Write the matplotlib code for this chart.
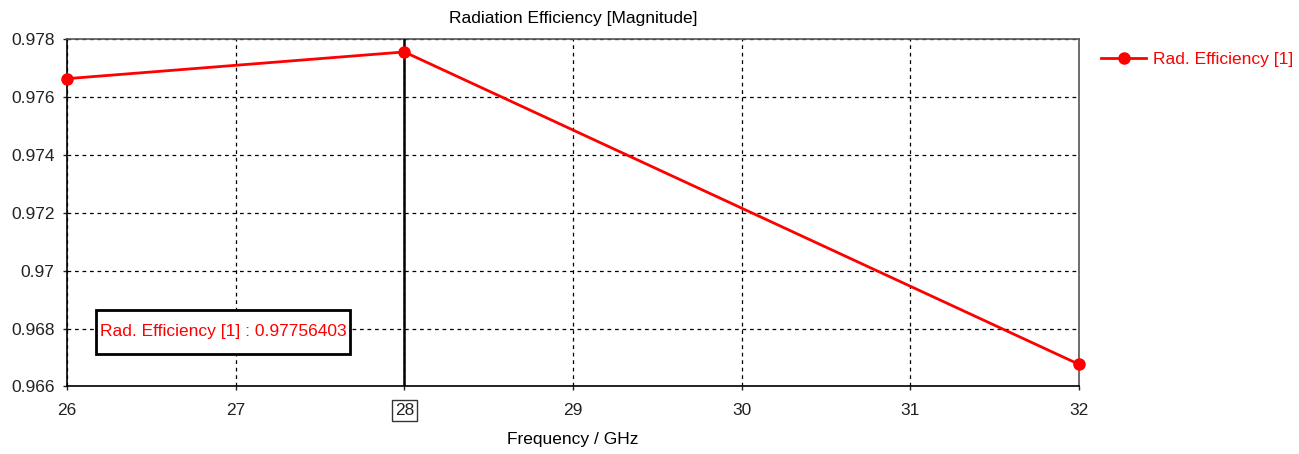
import matplotlib.pyplot as plt
from matplotlib.patches import Rectangle

plt.rcParams['font.family'] = ['Liberation Sans', 'DejaVu Sans']

freq = [26, 28, 32]
rad_eff = [0.97664, 0.97756403, 0.966766]
marker_freq = 28
marker_value = 0.97756403
x_ticks = [26, 27, 28, 29, 30, 31, 32]
y_ticks = [0.966, 0.968, 0.97, 0.972, 0.974, 0.976, 0.978]
y_labels = ['0.966', '0.968', '0.97', '0.972', '0.974', '0.976', '0.978']

fs = 12.5

fig = plt.figure(figsize=(12.99, 4.54), dpi=100)
ax = fig.add_axes([0.0516, 0.1487, 0.7790, 0.7647])

ax.plot(freq, rad_eff, color='red', lw=2, marker='o', ms=8,
        label='Rad. Efficiency [1]', clip_on=False, zorder=5)
ax.axvline(marker_freq, color='black', lw=1.8, zorder=4)

ax.set_xlim(26, 32)
ax.set_ylim(0.966, 0.978)
ax.set_xticks(x_ticks)
ax.set_yticks(y_ticks)
ax.set_yticklabels(y_labels)
ax.grid(True, color='black', ls=(0, (3, 3)), lw=0.9)
ax.tick_params(axis='y', direction='out', length=3, width=1, labelsize=fs,
               colors='#222222', pad=6)
ax.tick_params(axis='x', direction='out', length=3, width=1, labelsize=fs,
               colors='#222222', pad=9)
for s in ax.spines.values():
    s.set_color('#555555')
    s.set_linewidth(1.2)
ax.spines['bottom'].set_color('black')
ax.spines['left'].set_color('black')

# box around the marker tick label
for lbl in ax.get_xticklabels():
    if lbl.get_text() == str(marker_freq):
        lbl.set_bbox(dict(facecolor='white', edgecolor='#333333', lw=1,
                          pad=2))

ax.set_title('Radiation Efficiency [Magnitude]', fontsize=fs, pad=12)
ax.set_xlabel('Frequency / GHz', fontsize=fs, labelpad=10)

# marker readout box
ax.add_patch(Rectangle((0.0287, 0.0936), 0.2509, 0.1267, transform=ax.transAxes,
                       facecolor='white', edgecolor='black', lw=2, zorder=6))
ax.text(0.154, 0.157, 'Rad. Efficiency [1] : %.8f' % marker_value,
        transform=ax.transAxes, color='red', fontsize=fs,
        va='center', ha='center', zorder=7)

leg = ax.legend(loc='upper left', bbox_to_anchor=(1.01, 1.0),
                frameon=False, fontsize=fs, handlelength=2.6,
                handletextpad=0.4, borderaxespad=0.3)
for t in leg.get_texts():
    t.set_color('red')

fig.savefig('out.png', dpi=100)
